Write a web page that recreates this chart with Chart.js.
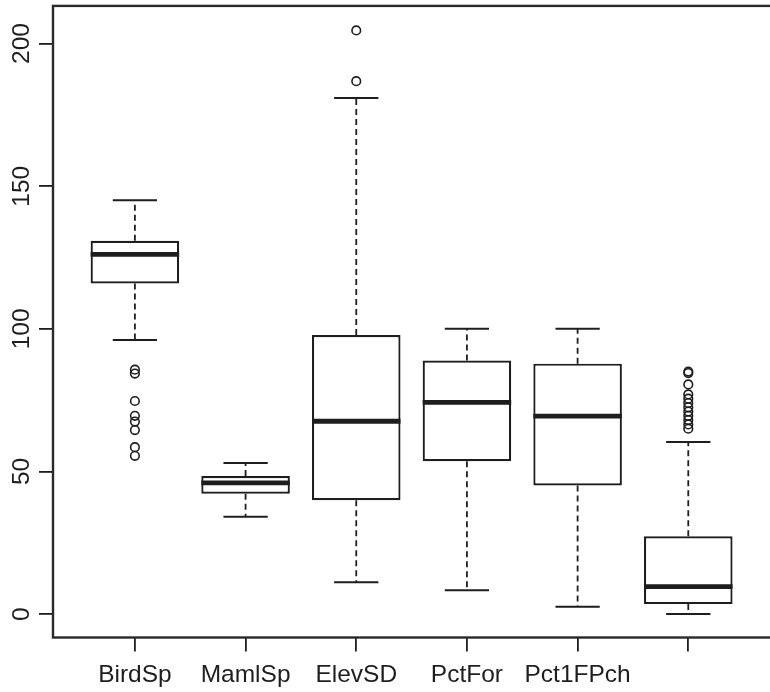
<!DOCTYPE html>
<html>
<head>
<meta charset="utf-8">
<script src="https://cdn.jsdelivr.net/npm/chart.js@4.4.1/dist/chart.umd.min.js"></script>
<style>
  html, body { margin: 0; padding: 0; background: #fff; overflow: hidden; }
  canvas { display: block; }
</style>
</head>
<body>
<canvas id="c" width="770" height="692"></canvas>
<script>
// Box plot summary per variable
const categories    = ['BirdSp', 'MamlSp', 'ElevSD', 'PctFor', 'Pct1FPch', ''];
const lowerWhisker  = [96.1, 34.1, 11.2, 8.4, 2.6, 0];
const lowerQuartile = [115.9, 42.2, 39.9, 53.6, 45.1, 3.5];
const medians       = [126.1, 46.0, 67.6, 74.2, 69.4, 9.6];
const upperQuartile = [130.9, 48.4, 97.8, 88.9, 87.8, 27.3];
const upperWhisker  = [145.1, 53.0, 180.9, 100, 100, 60.3];
const outliers = [
  [85.7, 84.3, 74.7, 69.5, 67.5, 64.5, 58.5, 55.5],
  [],
  [204.6, 186.8],
  [],
  [],
  [85, 84.5, 80.5, 77, 75.5, 74, 72.5, 71, 69.5, 68, 66.5, 65]
];
const yTicks = [0, 50, 100, 150, 200];

// drawing constants
const INK = '#1e1e1e';
const FONT = '"Liberation Sans", Arial, Helvetica, sans-serif';
const LABEL_SIZE = 24.5;
const BOX_HALF = 0.4;     // half box width in category units
const STAPLE_HALF = 0.2;  // half whisker-cap width

// datasets built from the summary arrays
const boxData = categories.map((c, i) => ({ x: i + 1, y: [lowerQuartile[i], upperQuartile[i]] }));

const whiskerData = [];
const stapleData = [];
const medianData = [];
categories.forEach((c, i) => {
  const x = i + 1;
  whiskerData.push({ x, y: upperQuartile[i] }, { x, y: upperWhisker[i] }, { x, y: null });
  whiskerData.push({ x, y: lowerQuartile[i] }, { x, y: lowerWhisker[i] }, { x, y: null });
  stapleData.push({ x: x - STAPLE_HALF, y: upperWhisker[i] }, { x: x + STAPLE_HALF, y: upperWhisker[i] }, { x, y: null });
  stapleData.push({ x: x - STAPLE_HALF, y: lowerWhisker[i] }, { x: x + STAPLE_HALF, y: lowerWhisker[i] }, { x, y: null });
  medianData.push({ x: x - BOX_HALF, y: medians[i] }, { x: x + BOX_HALF, y: medians[i] }, { x, y: null });
});
const outlierData = [];
outliers.forEach((vals, i) => vals.forEach(v => outlierData.push({ x: i + 1, y: v })));

// frame around the plotting region (right side runs past the canvas edge)
const framePlugin = {
  id: 'frame',
  afterDatasetsDraw(chart) {
    const { ctx, chartArea: a } = chart;
    ctx.save();
    ctx.strokeStyle = '#2a2a2a';
    ctx.lineWidth = 2.4;
    ctx.strokeRect(a.left, a.top, a.right - a.left + 20, a.bottom - a.top);
    ctx.restore();
  }
};

// y tick labels written parallel to the axis
const yLabelPlugin = {
  id: 'yLabels',
  afterDraw(chart) {
    const { ctx } = chart;
    const s = chart.scales.y;
    ctx.save();
    ctx.fillStyle = INK;
    ctx.font = LABEL_SIZE + 'px ' + FONT;
    ctx.textAlign = 'center';
    ctx.textBaseline = 'alphabetic';
    s.ticks.forEach(t => {
      const py = s.getPixelForValue(t.value);
      ctx.save();
      ctx.translate(28.5, py);
      ctx.rotate(-Math.PI / 2);
      ctx.fillText(String(t.value), 0, 0);
      ctx.restore();
    });
    ctx.restore();
  }
};

new Chart(document.getElementById('c'), {
  type: 'bar',
  data: {
    datasets: [
      {
        type: 'line', data: medianData, borderColor: INK, borderWidth: 4.8,
        pointRadius: 0, spanGaps: false, order: 1
      },
      {
        type: 'scatter', data: outlierData, pointStyle: 'circle', pointRadius: 4.3,
        pointBorderWidth: 1.6, pointBorderColor: INK, pointBackgroundColor: 'rgba(0,0,0,0)', order: 2
      },
      {
        type: 'line', data: stapleData, borderColor: INK, borderWidth: 2,
        pointRadius: 0, spanGaps: false, order: 3
      },
      {
        type: 'line', data: whiskerData, borderColor: INK, borderWidth: 1.8, borderDash: [6, 4],
        pointRadius: 0, spanGaps: false, order: 4
      },
      {
        type: 'bar', data: boxData, backgroundColor: '#ffffff', borderColor: INK, borderWidth: 2.2,
        borderSkipped: false, barPercentage: 0.8, categoryPercentage: 1, order: 5
      }
    ]
  },
  options: {
    responsive: false,
    animation: false,
    events: [],
    layout: { padding: { top: 5.5, right: 0, bottom: 0, left: 0 } },
    plugins: { legend: { display: false }, tooltip: { enabled: false } },
    scales: {
      x: {
        type: 'linear', position: 'bottom', min: 0.26, max: 6.685, offset: false,
        grid: { display: true, offset: false, drawOnChartArea: false, drawTicks: true, tickLength: 14, color: INK, lineWidth: 1.8 },
        border: { display: false },
        afterBuildTicks: s => { s.ticks = categories.map((c, i) => ({ value: i + 1 })); },
        afterFit: s => { s.height = 54.5; },
        ticks: {
          autoSkip: false, maxRotation: 0, minRotation: 0, padding: 9,
          color: INK, font: { family: FONT, size: LABEL_SIZE },
          callback: v => categories[v - 1]
        }
      },
      y: {
        type: 'linear', min: -8.2, max: 213.2,
        grid: { display: true, offset: false, drawOnChartArea: false, drawTicks: true, tickLength: 14, color: INK, lineWidth: 1.8 },
        border: { display: false },
        afterBuildTicks: s => { s.ticks = yTicks.map(v => ({ value: v })); },
        afterFit: s => { s.width = 53; },
        ticks: { display: false }
      }
    }
  },
  plugins: [framePlugin, yLabelPlugin]
});
</script>
</body>
</html>
